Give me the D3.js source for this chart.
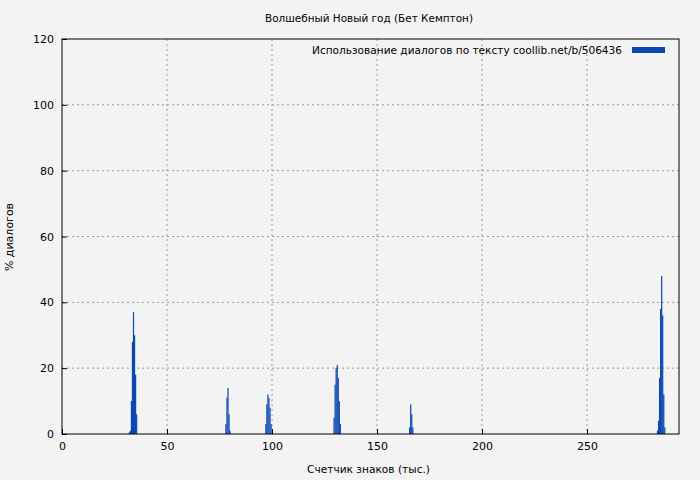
<!DOCTYPE html><html><head><meta charset="utf-8"><script src="https://cdn.jsdelivr.net/npm/d3@7"></script>
<style>body{margin:0;background:#f3f3f3}text{font-family:"DejaVu Sans",sans-serif;font-size:11px;fill:#000}</style></head><body><svg width="700" height="480"></svg><script>
const xs=[32,32.5,33,33.5,34,34.5,35,35.5, 78,78.5,79,79.5,80, 97,97.5,98,98.5,99,99.5, 129.5,130,130.5,131,131.5,132,132.5, 165.5,166,166.5,167, 283.5,284,284.5,285,285.5,286,286.5,287];
const vals=[0.5,1,10,28,37,30,18,6, 3,11,14,6,1, 3,9,12,11,8,3, 5,15,20,21,17,10,3, 2,9,6,2, 1,4,17,38,48,36,12,2];
const xTicks=[0,50,100,150,200,250], yTicks=[0,20,40,60,80,100,120];
const svg=d3.select("svg");
const x=d3.scaleLinear().domain([0,293.8]).range([62,679]);
const y=d3.scaleLinear().domain([0,120]).range([434,39]);
const g=svg.append("g");
yTicks.slice(1,-1).forEach(t=>g.append("line").attr("x1",62).attr("x2",679).attr("y1",y(t)).attr("y2",y(t)).attr("stroke","#999").attr("stroke-dasharray","2,3"));
xTicks.slice(1).forEach(t=>g.append("line").attr("x1",x(t)).attr("x2",x(t)).attr("y1",39).attr("y2",434).attr("stroke","#999").attr("stroke-dasharray","2,3"));
svg.selectAll("rect.b").data(xs).join("rect").attr("x",d=>x(d)-0.5).attr("width",1.2).attr("y",(d,i)=>y(vals[i])).attr("height",(d,i)=>434-y(vals[i])).attr("fill","#0a47b0");
svg.append("rect").attr("x",62).attr("y",39).attr("width",617).attr("height",395).attr("fill","none").attr("stroke","#000");
svg.append("g").attr("transform","translate(0,434)").call(d3.axisBottom(x).tickValues(xTicks).tickSize(-5).tickPadding(8)).call(a=>a.select(".domain").remove());
svg.append("g").attr("transform","translate(62,0)").call(d3.axisLeft(y).tickValues(yTicks).tickSize(-5).tickPadding(8)).call(a=>a.select(".domain").remove());
svg.selectAll(".tick text").style("font-family","DejaVu Sans").style("font-size","11px");
svg.append("text").attr("x",265).attr("y",22).attr("textLength",208).attr("lengthAdjust","spacingAndGlyphs").text("Волшебный Новый год (Бет Кемптон)");
svg.append("text").attr("x",307).attr("y",473).attr("textLength",123).attr("lengthAdjust","spacingAndGlyphs").text("Счетчик знаков (тыс.)");
svg.append("text").attr("transform","translate(13,237) rotate(-90)").attr("text-anchor","middle").text("% диалогов");
svg.append("text").attr("x",312).attr("y",54).attr("textLength",310).attr("lengthAdjust","spacingAndGlyphs").text("Использование диалогов по тексту  coollib.net/b/506436");
svg.append("rect").attr("x",632).attr("y",47).attr("width",33).attr("height",6).attr("fill","#0a47b0");
</script></body></html>
